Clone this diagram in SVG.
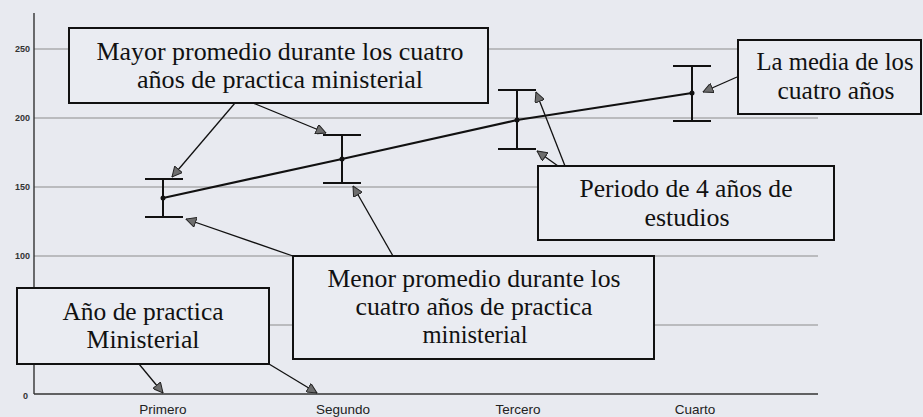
<svg xmlns="http://www.w3.org/2000/svg" width="923" height="417" viewBox="0 0 923 417">
<style>
.grid{stroke:#8c8c8c;stroke-width:1;fill:none}
.axis{stroke:#333;stroke-width:1.4;fill:none}
.ylab{font-family:"Liberation Sans",Arial,sans-serif;font-size:9px;font-weight:bold;fill:#333;text-anchor:end}
.xlab{font-family:"Liberation Sans",Arial,sans-serif;font-size:13.5px;fill:#222;text-anchor:middle}
.box{fill:#eaecf2;stroke:#111;stroke-width:2}
.lbl{font-family:"Liberation Serif","Times New Roman",serif;font-size:26px;fill:#111;text-anchor:middle}
.err{stroke:#111;stroke-width:2;fill:none}
.data{stroke:#111;stroke-width:2.2;fill:none}
.conn{stroke:#111;stroke-width:1.3;fill:none;marker-end:url(#arr)}
</style>
<defs>
<marker id="arr" viewBox="0 0 10 10" refX="10" refY="5" markerWidth="11" markerHeight="10" markerUnits="userSpaceOnUse" orient="auto">
<path d="M0,0 L10,5 L0,10 z" fill="#6e6e6e" stroke="#222" stroke-width="1"/>
</marker>
</defs>
<rect width="923" height="417" fill="#e8eaf0"/>
<g id="chart">
<line class="grid" x1="34" y1="49" x2="818" y2="49"/>
<line class="grid" x1="34" y1="118" x2="818" y2="118"/>
<line class="grid" x1="34" y1="187" x2="818" y2="187"/>
<line class="grid" x1="34" y1="256" x2="818" y2="256"/>
<line class="grid" x1="34" y1="325" x2="818" y2="325"/>
<line class="axis" x1="34" y1="13" x2="34" y2="394"/>
<line class="axis" x1="34" y1="394" x2="818" y2="394"/>
<text class="ylab" x="30" y="52">250</text>
<text class="ylab" x="30" y="121">200</text>
<text class="ylab" x="30" y="190">150</text>
<text class="ylab" x="30" y="259">100</text>
<text class="ylab" x="28" y="399">0</text>
<text class="xlab" x="163" y="414">Primero</text>
<text class="xlab" x="343" y="414">Segundo</text>
<text class="xlab" x="518" y="414">Tercero</text>
<text class="xlab" x="695" y="414">Cuarto</text>
<path class="err" d="M163,179 V217 M145,179 H183 M145,217 H183"/>
<path class="err" d="M342,135 V183 M323,135 H361 M323,183 H361"/>
<path class="err" d="M517,90 V149 M498,90 H536 M498,149 H536"/>
<path class="err" d="M692,66 V121 M673,66 H711 M673,121 H711"/>
<polyline class="data" points="163,198 342,159 517,120 692,93"/>
<circle cx="163" cy="198" r="2.5" fill="#111"/>
<circle cx="342" cy="159" r="2.5" fill="#111"/>
<circle cx="517" cy="120" r="2.5" fill="#111"/>
<circle cx="692" cy="93" r="2.5" fill="#111"/>
</g>
<g id="connectors">
<line class="conn" x1="235" y1="103" x2="172" y2="177"/>
<line class="conn" x1="253" y1="103" x2="326" y2="133"/>
<line class="conn" x1="293" y1="256" x2="186" y2="219"/>
<line class="conn" x1="393" y1="256" x2="353" y2="186"/>
<line class="conn" x1="565" y1="166" x2="536" y2="92"/>
<line class="conn" x1="558" y1="166" x2="537" y2="151"/>
<line class="conn" x1="737" y1="77" x2="703" y2="92"/>
<line class="conn" x1="139" y1="364" x2="163" y2="393"/>
<line class="conn" x1="269" y1="364" x2="317" y2="393"/>
</g>
<g id="mayor">
<rect class="box" x="69" y="28" width="419" height="75"/>
<text class="lbl" x="280" y="60" textLength="367" lengthAdjust="spacingAndGlyphs">Mayor promedio durante los cuatro</text>
<text class="lbl" x="280" y="88" textLength="286" lengthAdjust="spacingAndGlyphs">años de practica ministerial</text>
</g>
<g id="media">
<rect class="box" x="738" y="40" width="183" height="74"/>
<text class="lbl" x="835" y="70" textLength="157" lengthAdjust="spacingAndGlyphs">La media de los</text>
<text class="lbl" x="836" y="99" textLength="117" lengthAdjust="spacingAndGlyphs">cuatro años</text>
</g>
<g id="periodo">
<rect class="box" x="538" y="166" width="296" height="74"/>
<text class="lbl" x="686" y="197" textLength="213" lengthAdjust="spacingAndGlyphs">Periodo de 4 años de</text>
<text class="lbl" x="687" y="226" textLength="85" lengthAdjust="spacingAndGlyphs">estudios</text>
</g>
<g id="menor">
<rect class="box" x="293" y="256" width="361" height="103"/>
<text class="lbl" x="474" y="287" textLength="293" lengthAdjust="spacingAndGlyphs">Menor promedio durante los</text>
<text class="lbl" x="474" y="315" textLength="237" lengthAdjust="spacingAndGlyphs">cuatro años de practica</text>
<text class="lbl" x="475" y="343" textLength="105" lengthAdjust="spacingAndGlyphs">ministerial</text>
</g>
<g id="anio">
<rect class="box" x="17" y="288" width="252" height="76"/>
<text class="lbl" x="143" y="320" textLength="161" lengthAdjust="spacingAndGlyphs">Año de practica</text>
<text class="lbl" x="143" y="348" textLength="113" lengthAdjust="spacingAndGlyphs">Ministerial</text>
</g>
</svg>
